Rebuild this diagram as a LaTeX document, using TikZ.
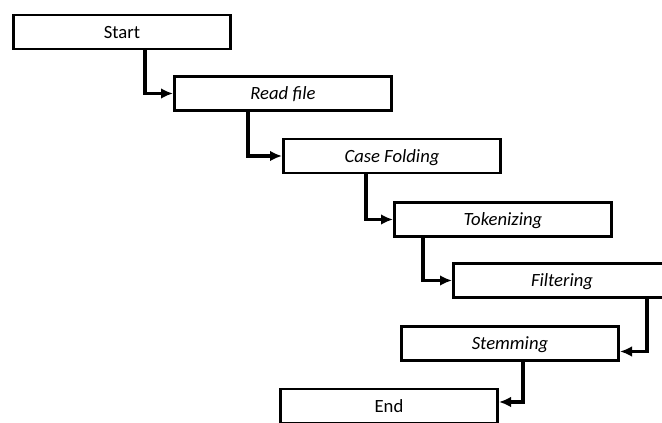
\documentclass[tikz,border=0pt]{standalone}
\usepackage{fontspec}
\setmainfont{Carlito}
\usetikzlibrary{arrows.meta,calc}

\begin{document}
\begin{tikzpicture}[x=0.75pt, y=-0.75pt,
    box/.style={draw, line width=2pt, fill=white, minimum height=25.5pt, minimum width=163pt, inner sep=0pt, text depth=0pt, font=\fontsize{14}{16}\selectfont, align=center},
    arr/.style={-{Latex[length=9pt,width=8pt]}, line width=2.3pt}
]
\useasboundingbox (0,0) rectangle (662,423);
\node[box] (start) at (122,32) {Start};
\node[box] (read) at (283,93.5) {\itshape Read file};
\node[box] (fold) at (392,156) {\itshape Case Folding};
\node[box] (token) at (503,219.5) {\itshape Tokenizing};
\node[box] (filter) at (562,280.5) {\itshape Filtering};
\node[box] (stem) at (510,343.5) {\itshape Stemming};
\node[box] (finish) at (389,406) {End};
\draw[arr] ($(start.south)+(23,0)$) |- (read.west);
\draw[arr] ($(read.south)+(-35,0)$) |- (fold.west);
\draw[arr] ($(fold.south)+(-26,0)$) |- (token.west);
\draw[arr] ($(token.south)+(-80,0)$) |- (filter.west);
\draw[arr] ($(filter.south)+(85,0)$) |- ($(stem.east)+(0,8)$);
\draw[arr] ($(stem.south)+(13,0)$) |- ($(finish.east)+(0,-4)$);
\end{tikzpicture}
\end{document}
